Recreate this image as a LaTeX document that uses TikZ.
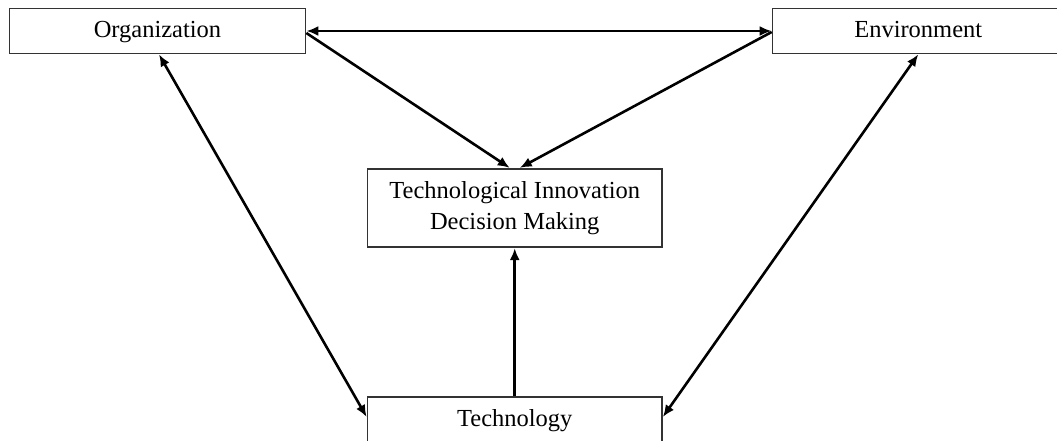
\documentclass[tikz,border=0pt]{standalone}
\usepackage{fontspec}
\setmainfont{Liberation Serif}
\usetikzlibrary{arrows.meta}
\begin{document}
\begin{tikzpicture}[x=1pt,y=-1pt,
  box/.style={draw=black!80,line width=1.7pt,fill=white,inner sep=0pt,
    align=center,font=\fontsize{24.5}{31}\selectfont},
  oneline/.style={text height=17pt,text depth=5pt},
  tip/.tip={Latex[length=12pt,width=10pt]},
  link/.style={line width=2.6pt,-tip},
  both/.style={line width=2.6pt,tip-tip}]
\useasboundingbox (0,0) rectangle (1057,440);
\clip (0,0) rectangle (1057,440);
\fill[white] (0,0) rectangle (1057,440);

% the four factor boxes
\node[box,oneline,minimum width=296pt,minimum height=45pt] (org) at (157.5,31) {Organization};
\node[box,oneline,minimum width=291.5pt,minimum height=45pt] (env) at (918.25,31) {Environment};
\node[box,minimum width=294.5pt,minimum height=78.5pt] (dec) at (514.75,208)
  {Technological Innovation\\Decision Making};
\node[box,oneline,minimum width=294.5pt,minimum height=46pt] (tech) at (514.75,420) {Technology};

% relations between the contexts
\draw[both] (org.east) -- (env.west);
\draw[link] ([yshift=-2pt]org.east) -- ([xshift=-5pt]dec.north);
\draw[link] ([yshift=-1pt]env.west) -- ([xshift=5pt]dec.north);
\draw[both] ([xshift=1.5pt]org.south) -- ([yshift=3pt]tech.west);
\draw[both] (env.south) -- ([yshift=3pt]tech.east);
\draw[link] (tech.north) -- (dec.south);
\end{tikzpicture}
\end{document}
